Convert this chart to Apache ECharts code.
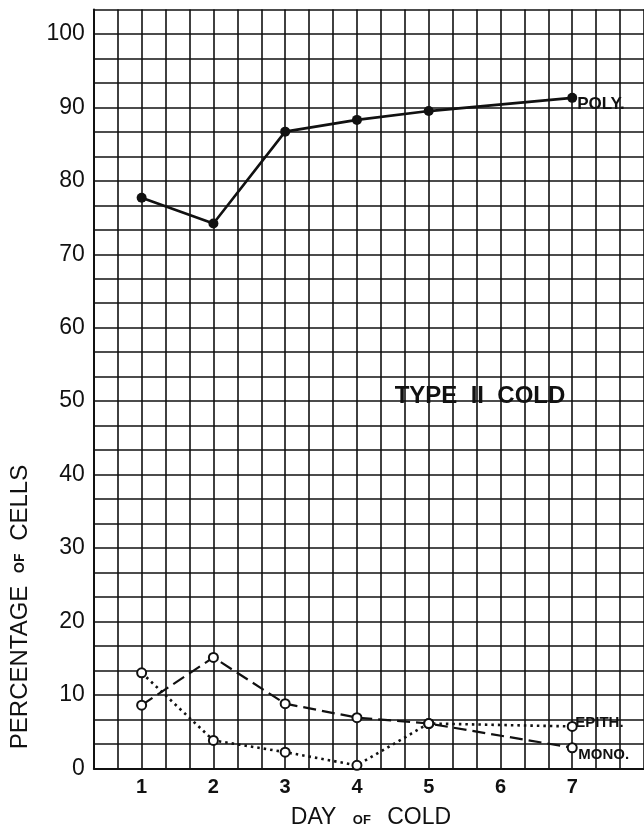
<!DOCTYPE html>
<html>
<head>
<meta charset="utf-8">
<script src="https://cdn.jsdelivr.net/npm/echarts@6/dist/echarts.min.js"></script>
<style>
html,body{margin:0;padding:0;background:#fff;}
#chart{width:644px;height:828px;}
</style>
</head>
<body>
<div id="chart"></div>
<script>
// ---- data ----
var days = [1, 2, 3, 4, 5, 7];
var polyValues = [77.7, 74.2, 86.7, 88.3, 89.5, 91.3];
var monoValues = [8.6, 15.1, 8.8, 6.9, 6.1, 2.8];
var epithValues = [13.0, 3.8, 2.2, 0.4, 6.1, 5.7];
var xTickLabels = [1, 2, 3, 4, 5, 6, 7];
var yTickLabels = [0, 10, 20, 30, 40, 50, 60, 70, 80, 90, 100];
var seriesNames = ['POLY.', 'MONO.', 'EPITH.'];

function pairs(vals) { return days.map(function (d, i) { return [d, vals[i]]; }); }

var FONT = '"Liberation Sans", Arial, sans-serif';
var INK = '#111';

var chart = echarts.init(document.getElementById('chart'), null, {renderer: 'canvas'});
var option = {
  animation: false,
  backgroundColor: '#fff',
  grid: {left: 93.8, top: 9.5, right: -3.8, bottom: 59.7, containLabel: false},
  xAxis: [
    {
      type: 'value', min: 1 / 3, max: 8, interval: 1, position: 'bottom',
      axisLine: {show: true, onZero: false, lineStyle: {color: INK, width: 2}},
      axisTick: {show: false},
      splitLine: {show: false},
      axisLabel: {
        customValues: xTickLabels, color: INK, fontSize: 20, fontWeight: 'bold',
        fontFamily: FONT, margin: 9
      }
    },
    {
      type: 'value', min: 1, max: 24, interval: 1, position: 'bottom',
      axisLine: {show: false}, axisTick: {show: false}, axisLabel: {show: false},
      splitLine: {show: true, lineStyle: {color: INK, width: 1.6}}
    }
  ],
  yAxis: [
    {
      type: 'value', min: 0, max: 310 / 3, interval: 10,
      axisLine: {show: true, onZero: false, lineStyle: {color: INK, width: 2}},
      axisTick: {show: false},
      splitLine: {show: false},
      axisLabel: {
        customValues: yTickLabels, color: INK, fontSize: 23, fontFamily: FONT, margin: 9
      }
    },
    {
      type: 'value', min: 0, max: 31, interval: 1,
      axisLine: {show: false}, axisTick: {show: false}, axisLabel: {show: false},
      splitLine: {show: true, lineStyle: {color: INK, width: 1.6}}
    }
  ],
  graphic: [
    {
      type: 'text', x: 20, y: 607, rotation: Math.PI / 2,
      style: {
        text: 'PERCENTAGE {s|OF} CELLS', fill: INK, font: '24px ' + FONT,
        align: 'center', verticalAlign: 'middle',
        rich: {s: {fontSize: 14, fontFamily: FONT, fill: INK, fontWeight: 'bold', padding: [0, 6, 0, 6]}}
      }
    },
    {
      type: 'text', x: 371, y: 818,
      style: {
        text: 'DAY {s|OF} COLD', fill: INK, font: '23px ' + FONT,
        align: 'center', verticalAlign: 'middle',
        rich: {s: {fontSize: 13, fontFamily: FONT, fill: INK, fontWeight: 'bold', padding: [4, 10, 0, 10]}}
      }
    },
    {
      type: 'text', x: 480, y: 396, z: 10,
      style: {
        text: 'TYPE  II  COLD', fill: INK, font: 'bold 24px ' + FONT,
        align: 'center', verticalAlign: 'middle'
      }
    }
  ],
  series: [
    {
      name: seriesNames[0], type: 'line', xAxisIndex: 0, yAxisIndex: 0, z: 5,
      data: pairs(polyValues),
      symbol: 'circle', symbolSize: 10,
      itemStyle: {color: INK},
      lineStyle: {color: INK, width: 2.6, type: 'solid'},
      endLabel: {show: true, formatter: seriesNames[0], color: INK, fontSize: 17, fontWeight: 'bold', fontFamily: FONT, distance: 5, offset: [0, 6]}
    },
    {
      name: seriesNames[1], type: 'line', xAxisIndex: 0, yAxisIndex: 0, z: 5,
      data: pairs(monoValues),
      symbol: 'emptyCircle', symbolSize: 9,
      itemStyle: {color: INK, borderColor: INK, borderWidth: 2},
      lineStyle: {color: INK, width: 2.2, type: [13, 6]},
      endLabel: {show: true, formatter: seriesNames[1], color: INK, fontSize: 15, fontWeight: 'bold', fontFamily: FONT, distance: 6, offset: [0, 7]}
    },
    {
      name: seriesNames[2], type: 'line', xAxisIndex: 0, yAxisIndex: 0, z: 5,
      data: pairs(epithValues),
      symbol: 'emptyCircle', symbolSize: 9,
      itemStyle: {color: INK, borderColor: INK, borderWidth: 2},
      lineStyle: {color: INK, width: 2.6, type: [2.5, 4]},
      endLabel: {show: true, formatter: seriesNames[2], color: INK, fontSize: 15, fontWeight: 'bold', fontFamily: FONT, distance: 3, offset: [0, -4]}
    }
  ]
};
chart.setOption(option);
</script>
</body>
</html>
